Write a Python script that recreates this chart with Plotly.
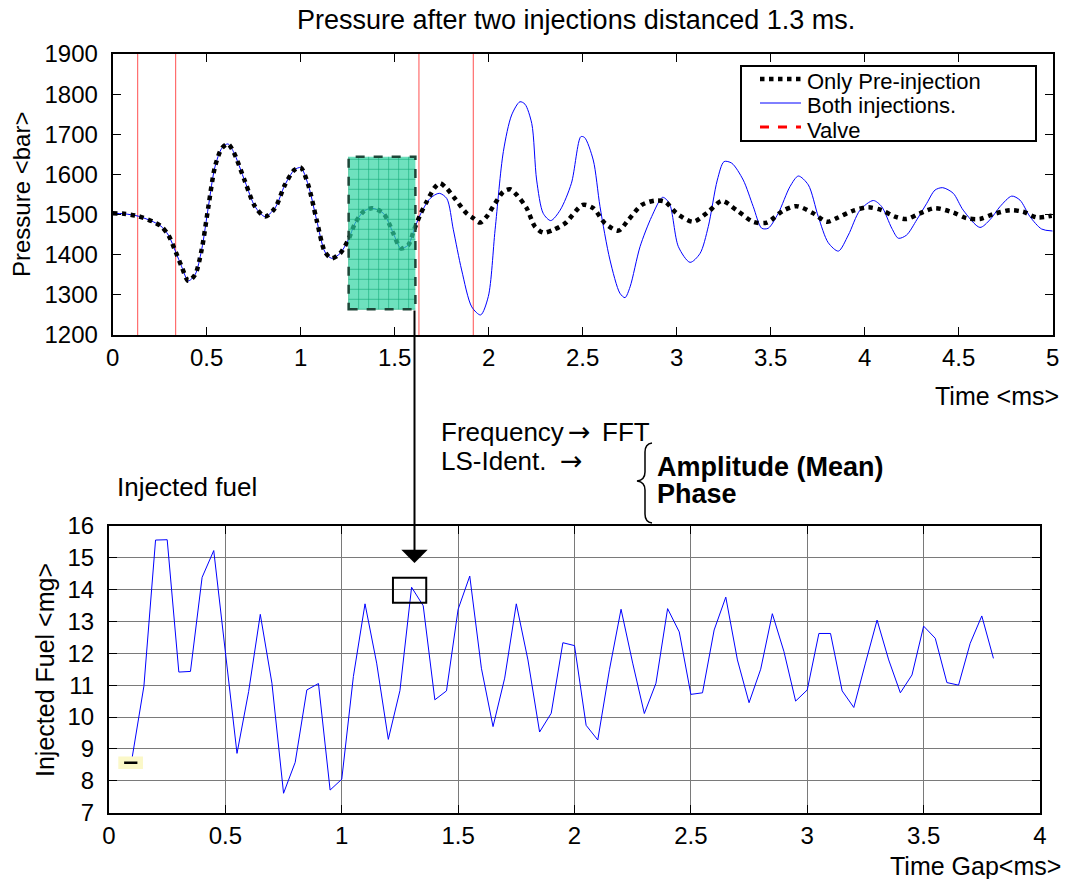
import numpy as np
import plotly.graph_objects as go

W, H = 1068, 879
FONT = "Liberation Sans, Arial, sans-serif"

# ---- top chart: pressure traces (ms, bar) ----
t_common = [0.0, 0.06, 0.136, 0.216, 0.257, 0.296, 0.335, 0.367, 0.402, 0.438,
            0.473, 0.509, 0.544, 0.58, 0.612, 0.642, 0.704, 0.757, 0.81, 0.863,
            0.916, 0.966, 1.0, 1.04, 1.085, 1.129, 1.165, 1.209, 1.253, 1.289,
            1.333, 1.378, 1.44, 1.493, 1.532, 1.572, 1.603, 1.635]
p_common = [1503, 1502, 1496, 1482, 1471, 1449, 1407, 1370, 1335, 1350,
            1412, 1520, 1619, 1665, 1676, 1657, 1582, 1520, 1495, 1516,
            1574, 1611, 1617, 1574, 1486, 1407, 1391, 1403, 1437, 1478,
            1507, 1516, 1503, 1453, 1416, 1424, 1462, 1499]

t_pre_tail = [1.67, 1.714, 1.741, 1.777, 1.82, 1.883, 1.918, 1.954, 1.989, 2.034,
              2.078, 2.113, 2.149, 2.202, 2.246, 2.29, 2.344, 2.406, 2.5, 2.556,
              2.619, 2.69, 2.742, 2.814, 2.885, 2.938, 3.0, 3.088, 3.168, 3.24,
              3.319, 3.407, 3.479, 3.567, 3.638, 3.727, 3.798, 3.851, 3.94, 4.019,
              4.09, 4.161, 4.223, 4.294, 4.374, 4.471, 4.542, 4.613, 4.684, 4.773,
              4.843, 4.915, 4.995]
p_pre_tail = [1532, 1568, 1578, 1565, 1540, 1503, 1491, 1480, 1495, 1528,
              1557, 1563, 1549, 1516, 1470, 1455, 1462, 1478, 1524, 1516,
              1478, 1460, 1486, 1524, 1535, 1532, 1503, 1482, 1507, 1534,
              1511, 1482, 1480, 1510, 1521, 1503, 1482, 1491, 1510, 1518,
              1511, 1495, 1489, 1503, 1516, 1505, 1491, 1489, 1501, 1511,
              1507, 1493, 1497]

t_both_tail = [1.688, 1.737, 1.777, 1.812, 1.856, 1.91, 1.957, 1.998, 2.034, 2.078,
               2.122, 2.166, 2.193, 2.229, 2.255, 2.29, 2.33, 2.38, 2.44, 2.49,
               2.51, 2.556, 2.592, 2.645, 2.698, 2.725, 2.752, 2.805, 2.867, 2.925,
               2.961, 3.009, 3.071, 3.124, 3.168, 3.216, 3.252, 3.293, 3.354, 3.407,
               3.452, 3.487, 3.54, 3.603, 3.647, 3.7, 3.753, 3.806, 3.86, 3.913,
               3.975, 4.046, 4.09, 4.144, 4.179, 4.223, 4.277, 4.33, 4.374, 4.415,
               4.471, 4.524, 4.613, 4.666, 4.72, 4.782, 4.826, 4.879, 4.941, 5.0]
p_both_tail = [1540, 1553, 1540, 1462, 1362, 1270, 1250, 1296, 1462, 1657,
               1748, 1781, 1775, 1727, 1586, 1503, 1485, 1511, 1578, 1694,
               1692, 1636, 1520, 1387, 1304, 1293, 1320, 1420, 1495, 1543,
               1528, 1420, 1381, 1403, 1470, 1586, 1632, 1628, 1586, 1520,
               1466, 1466, 1503, 1570, 1596, 1574, 1495, 1430, 1409, 1449,
               1511, 1535, 1520, 1466, 1441, 1449, 1487, 1528, 1561, 1567,
               1553, 1511, 1468, 1487, 1520, 1546, 1536, 1495, 1464, 1459]

valve_times = [0.133, 0.335, 1.629, 1.918]

# ---- bottom chart: injected fuel vs time gap ----
gap_ms = [0.1, 0.15, 0.2, 0.25, 0.3, 0.35, 0.4, 0.45, 0.55, 0.6,
          0.65, 0.7, 0.75, 0.8, 0.85, 0.9, 0.95, 1.0, 1.05, 1.1,
          1.15, 1.2, 1.25, 1.3, 1.35, 1.4, 1.45, 1.5, 1.55, 1.6,
          1.65, 1.7, 1.75, 1.8, 1.85, 1.9, 1.95, 2.0, 2.05, 2.1,
          2.15, 2.2, 2.25, 2.3, 2.35, 2.4, 2.45, 2.5, 2.55, 2.6,
          2.65, 2.7, 2.75, 2.8, 2.85, 2.9, 2.95, 3.0, 3.05, 3.1,
          3.15, 3.2, 3.25, 3.3, 3.35, 3.4, 3.45, 3.5, 3.55, 3.6,
          3.65, 3.7, 3.75, 3.8]
fuel_mg = [8.75, 10.97, 15.55, 15.56, 11.41, 11.43, 14.38, 15.22, 8.86, 10.8,
           13.22, 11.06, 7.61, 8.58, 10.85, 11.05, 7.71, 8.05, 11.27, 13.55,
           11.69, 9.3, 10.83, 14.07, 13.49, 10.54, 10.82, 13.38, 14.42, 11.53,
           9.7, 11.22, 13.55, 11.79, 9.53, 10.12, 12.33, 12.24, 9.74, 9.28,
           11.48, 13.38, 11.69, 10.11, 11.06, 13.4, 12.67, 10.71, 10.76, 12.73,
           13.76, 11.79, 10.45, 11.5, 13.24, 12.05, 10.5, 10.85, 12.62, 12.62,
           10.82, 10.3, 11.69, 13.04, 11.79, 10.76, 11.32, 12.85, 12.47, 11.08,
           11.0, 12.31, 13.17, 11.84]

# analysis window (top) and selected point (bottom)
window_ms = (1.255, 1.61)
window_bar = (1264, 1644)
sel_gap = (1.22, 1.363)
sel_fuel = (13.58, 14.37)

legend_names = ["Only Pre-injection", "Both injections.", "Valve"]


def px(x):
    return x / W


def py(y):
    return 1 - y / H


t_pre = t_common + t_pre_tail
p_pre = p_common + p_pre_tail
t_both = t_common + t_both_tail
p_both = p_common + p_both_tail

fig = go.Figure()

vx, vy = [], []
for t in valve_times:
    vx += [t, t, None]
    vy += [1200, 1900, None]
fig.add_trace(go.Scatter(x=vx, y=vy, mode="lines", name=legend_names[2],
                         line=dict(color="#ff5050", width=1)))
fig.add_trace(go.Scatter(x=t_both, y=p_both, mode="lines", name=legend_names[1],
                         line=dict(color="#0000ff", width=1, shape="spline", smoothing=0.8)))
fig.add_trace(go.Scatter(x=t_pre, y=p_pre, mode="lines", name=legend_names[0],
                         line=dict(color="black", width=4.5, dash="dot",
                                   shape="spline", smoothing=0.8)))
fig.add_trace(go.Scatter(x=gap_ms, y=fuel_mg, mode="lines", name="Injected fuel",
                         xaxis="x2", yaxis="y2", line=dict(color="#0000ff", width=1)))

axis_common = dict(showline=True, linecolor="black", linewidth=2, mirror="ticks",
                   ticks="inside", ticklen=8, tickcolor="black", zeroline=False,
                   automargin=False,
                   tickfont=dict(family=FONT, size=24, color="black"))

fig.update_layout(
    template="none",
    width=W, height=H, margin=dict(l=0, r=0, t=0, b=0, pad=0),
    paper_bgcolor="white", plot_bgcolor="white",
    font=dict(family=FONT, color="black"),
    showlegend=False,
    xaxis=dict(axis_common, domain=[px(112.7), px(1052.7)], range=[0, 5], dtick=0.5,
               showgrid=False, anchor="y"),
    yaxis=dict(axis_common, domain=[py(335), py(54)], range=[1200, 1900], dtick=100,
               showgrid=False, anchor="x", ticklabelstandoff=8),
    xaxis2=dict(axis_common, domain=[px(109), px(1040)], range=[0, 4], dtick=0.5,
                showgrid=True, gridcolor="#7a7a7a", gridwidth=1, anchor="y2"),
    yaxis2=dict(axis_common, domain=[py(812.7), py(525.7)], range=[7, 16], dtick=1,
                showgrid=True, gridcolor="#7a7a7a", gridwidth=1, anchor="x2",
                ticklabelstandoff=8),
)

shapes = []
# green analysis window with grid pattern
x0, x1 = window_ms
y0, y1 = window_bar
shapes.append(dict(type="rect", xref="x", yref="y", x0=x0, x1=x1, y0=y0, y1=y1,
                   fillcolor="rgba(48,212,162,0.7)", line=dict(width=0), layer="above"))
for gx in np.arange(x0, x1, 10 / 188):
    shapes.append(dict(type="line", xref="x", yref="y", x0=gx, x1=gx, y0=y0, y1=y1,
                       line=dict(color="rgba(20,170,120,0.6)", width=1), layer="above"))
for gy in np.arange(y0, y1, 10 * 700 / 281):
    shapes.append(dict(type="line", xref="x", yref="y", x0=x0, x1=x1, y0=gy, y1=gy,
                       line=dict(color="rgba(20,170,120,0.6)", width=1), layer="above"))
shapes.append(dict(type="rect", xref="x", yref="y", x0=x0, x1=x1, y0=y0, y1=y1,
                   line=dict(color="#1e4638", width=2.5, dash="dash"), layer="above"))

# selected point box in bottom chart
shapes.append(dict(type="rect", xref="x2", yref="y2", x0=sel_gap[0], x1=sel_gap[1],
                   y0=sel_fuel[0], y1=sel_fuel[1], line=dict(color="black", width=2)))

# small yellow marker at first point
shapes.append(dict(type="rect", xref="x2", yref="y2", x0=0.04, x1=0.146, y0=8.37, y1=8.76,
                   fillcolor="#fbf8c8", line=dict(width=0)))
shapes.append(dict(type="line", xref="x2", yref="y2", x0=0.065, x1=0.122, y0=8.57, y1=8.57,
                   line=dict(color="black", width=2.5)))

# curly brace
pts = [(652, 443), (645, 444), (645, 452), (645, 472), (645, 480), (637, 481),
       (645, 482), (645, 490), (645, 514), (645, 522), (652, 523)]
c = [f"{px(a):.5f},{py(b):.5f}" for a, b in pts]
brace = (f"M {c[0]} Q {c[1]} {c[2]} L {c[3]} Q {c[4]} {c[5]} "
         f"Q {c[6]} {c[7]} L {c[8]} Q {c[9]} {c[10]}")
shapes.append(dict(type="path", xref="paper", yref="paper", path=brace,
                   line=dict(color="black", width=1.5)))

# hand-drawn legend box (tight rows like the original)
shapes.append(dict(type="rect", xref="paper", yref="paper", x0=px(741), x1=px(1036),
                   y0=py(141), y1=py(66), fillcolor="white",
                   line=dict(color="black", width=2)))
legend_styles = [dict(color="black", width=4.5, dash="dot"),
                 dict(color="#0000ff", width=1),
                 dict(color="red", width=3, dash="dash")]
legend_rows = [79, 103, 127]
for row_y, style in zip(legend_rows, legend_styles):
    shapes.append(dict(type="line", xref="paper", yref="paper", x0=px(760), x1=px(801),
                       y0=py(row_y), y1=py(row_y), line=style))

fig.update_layout(shapes=shapes)


def label(text, x, y, size=22, xanchor="left", angle=0, bold=False, family=FONT):
    fig.add_annotation(text=f"<b>{text}</b>" if bold else text, x=px(x), y=py(y),
                       xref="paper", yref="paper", xanchor=xanchor, yanchor="middle",
                       showarrow=False, textangle=angle,
                       font=dict(family=family, size=size, color="black"))


for row_y, name in zip(legend_rows, legend_names):
    label(name, 805, row_y + 3, size=22)

label("Pressure after two injections distanced 1.3 ms.", 576, 20, size=27, xanchor="center")
label("Pressure &lt;bar&gt;", 22, 195, size=24, xanchor="center", angle=-90)
label("Time &lt;ms&gt;", 1061, 396, size=25, xanchor="right")
label("Frequency", 439, 432, size=26)
label("\u2192", 566, 431, size=27, family="DejaVu Sans")
label("FFT", 600, 432, size=26)
label("LS-Ident.", 439, 461, size=26)
label("\u2192", 558, 460, size=27, family="DejaVu Sans")
label("Amplitude (Mean)", 655, 467, size=27, bold=True)
label("Phase", 655, 494, size=27, bold=True)
label("Injected fuel", 115, 487, size=26)
label("Injected Fuel &lt;mg&gt;", 45, 670, size=25, xanchor="center", angle=-90)
label("Time Gap&lt;ms&gt;", 1063, 866, size=25, xanchor="right")

# arrow from analysis window down to the selected point
fig.add_annotation(x=px(414.5), y=py(563), xref="paper", yref="paper",
                   ax=0, ay=-(563 - 309), showarrow=True, arrowhead=1,
                   arrowsize=2.2, arrowwidth=2, arrowcolor="black", text="")

fig.write_html("out.html", config={"displayModeBar": False},
               post_script="document.body.style.margin = '0px';")
